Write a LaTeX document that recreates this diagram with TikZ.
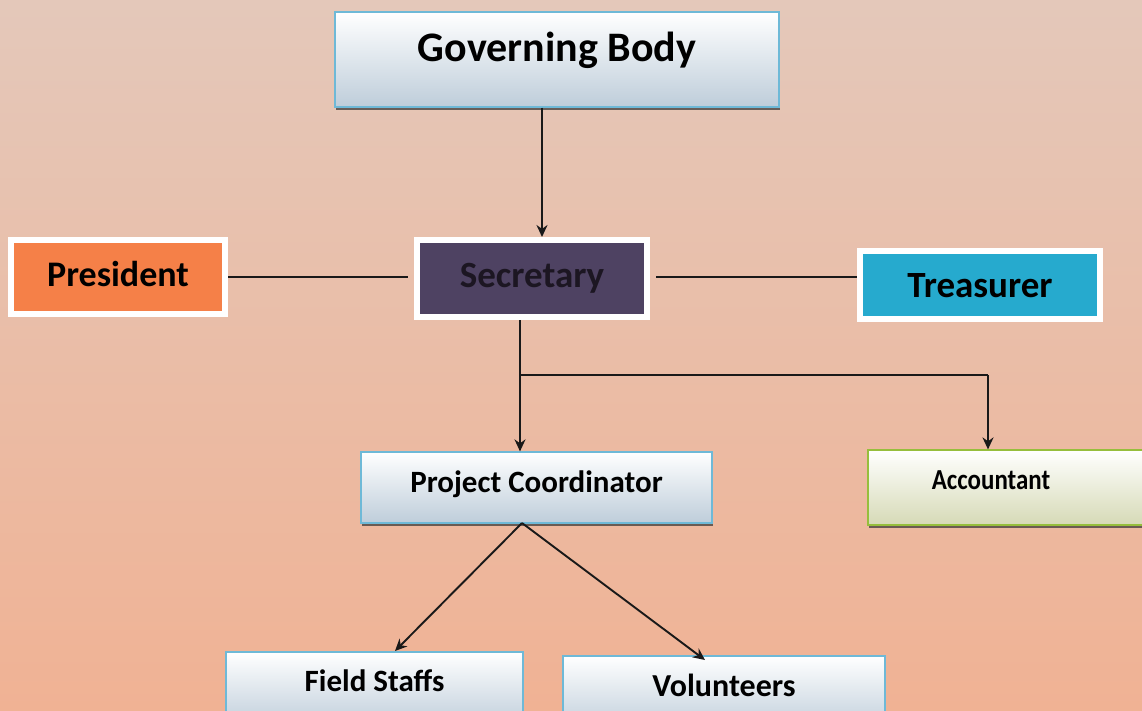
\documentclass[tikz,border=0pt]{standalone}
\usepackage{fontspec}
\setmainfont{Carlito}
\usetikzlibrary{arrows.meta,shadows}
\definecolor{bgtop}{RGB}{228,200,186}
\definecolor{bgbot}{RGB}{240,178,148}
\definecolor{pres}{RGB}{245,128,72}
\definecolor{secr}{RGB}{78,66,98}
\definecolor{secrtxt}{RGB}{28,22,34}
\definecolor{treas}{RGB}{38,170,206}
\definecolor{bluebd}{RGB}{110,185,215}
\definecolor{bluebot}{RGB}{190,205,218}
\definecolor{greenbd}{RGB}{150,190,60}
\definecolor{greenbot}{RGB}{214,218,182}
\newcommand{\rtext}[2]{\raisebox{#1}[0pt][0pt]{#2}}
\tikzset{
  gradbox/.style={draw=bluebd, line width=1.2pt, top color=white, bottom color=bluebot,
    drop shadow={shadow xshift=1pt, shadow yshift=-2.5pt, opacity=0.7, fill=black!80},
    font=\bfseries, text=black, inner sep=0pt},
  framebox/.style={draw=white, line width=6pt, font=\bfseries, inner sep=0pt,
    drop shadow={shadow xshift=1.5pt, shadow yshift=-2.5pt, opacity=0.6, fill=black!70}},
  conn/.style={line width=1.9pt, draw=black!90},
  arr/.style={conn, -{Stealth[length=12pt,width=11pt]}}
}
\begin{document}
\begin{tikzpicture}[x=1pt,y=-1pt]
\useasboundingbox (0,0) rectangle (1142,710);
\clip (0,0) rectangle (1142,710);
\shade[top color=bgtop, bottom color=bgbot] (0,0) rectangle (1142,710);
% nodes
\node[gradbox, minimum width=444pt, minimum height=95pt, font=\bfseries\fontsize{42}{46}\selectfont] (gb) at (557,59.5) {\rtext{-2pt}{Governing Body}};
\node[framebox, fill=pres, minimum width=214pt, minimum height=74pt, font=\bfseries\fontsize{36}{40}\selectfont] (pres) at (118,277) {\rtext{-9pt}{President}};
\node[framebox, fill=secr, text=secrtxt, minimum width=230pt, minimum height=77pt, font=\bfseries\fontsize{37}{40}\selectfont] (sec) at (532,278.5) {\rtext{-9pt}{Secretary}};
\node[framebox, fill=treas, minimum width=240pt, minimum height=68pt, font=\bfseries\fontsize{37}{40}\selectfont] (tre) at (980,285) {\rtext{-12pt}{Treasurer}};
\node[gradbox, minimum width=351pt, minimum height=71pt, font=\bfseries\fontsize{31}{34}\selectfont] (pc) at (536.5,487.5) {\rtext{-5pt}{Project Coordinator}};
\node[gradbox, draw=greenbd, bottom color=greenbot, minimum width=278pt, minimum height=75pt, font=\bfseries\fontsize{29}{32}\selectfont] (acc) at (1007,487.5) {\hspace*{-32pt}\rtext{-2pt}{\scalebox{0.86}[1]{Accountant}}};
\node[gradbox, minimum width=297pt, minimum height=76pt, font=\bfseries\fontsize{31}{34}\selectfont] (fs) at (374.5,690) {\rtext{-1.5pt}{Field Staffs}};
\node[gradbox, minimum width=322pt, minimum height=76pt, font=\bfseries\fontsize{32}{35}\selectfont] (vol) at (724,694) {\rtext{-2.3pt}{Volunteers}};
% connectors
\coordinate (plend) at (408,277);
\coordinate (tlstart) at (656,277);
\coordinate (branch) at (520,375);
\coordinate (accturn) at (988,375);
\draw[arr] (gb.south -| 542,0) -- (sec.north -| 542,0);
\draw[conn] (pres.east) -- (plend);
\draw[conn] (tlstart) -- (tlstart -| tre.west);
\draw[arr] (sec.south -| branch) -- (pc.north -| branch);
\draw[conn] (branch) -- (accturn);
\draw[arr] (accturn) -- (acc.north -| accturn);
\coordinate (pcb) at (522,523);
\draw[arr] (pcb) -- (395,651);
\draw[arr] (pcb) -- (705,660);
\end{tikzpicture}
\end{document}
